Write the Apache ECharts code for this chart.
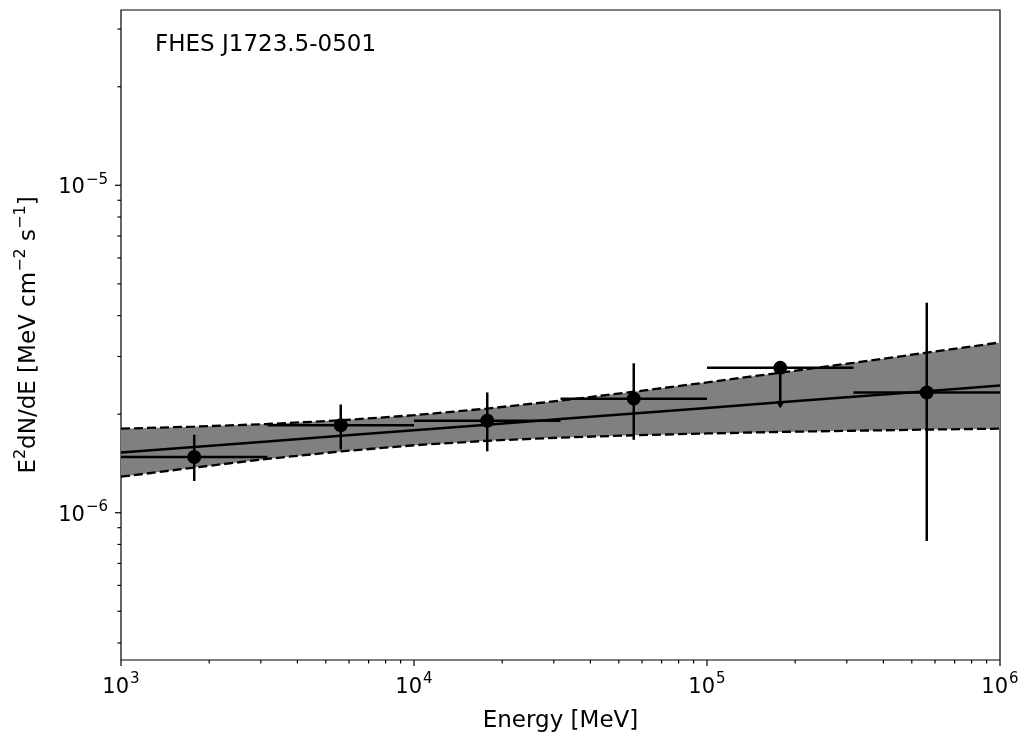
<!DOCTYPE html>
<html>
<head>
<meta charset="utf-8">
<script src="https://cdn.jsdelivr.net/npm/echarts@6/dist/echarts.min.js"></script>
<style>
  html, body { margin: 0; padding: 0; background: #fff; }
  #chart { width: 1025px; height: 743px; }
</style>
</head>
<body>
<div id="chart"></div>
<script>
// Spectral energy distribution of FHES J1723.5-0501

// Flux points per energy bin (MeV, MeV cm^-2 s^-1)
const binLo     = [1000, 3162, 10000, 31623, 100000, 316228];
const binHi     = [3162, 10000, 31623, 100000, 316228, 1000000];
const binCenter = [1778, 5623, 17783, 56234, 177828, 562341];
const flux      = [1.48e-6, 1.85e-6, 1.91e-6, 2.23e-6, 2.77e-6, 2.33e-6];
const fluxLo    = [1.25e-6, 1.56e-6, 1.54e-6, 1.67e-6, 2.14e-6, 8.2e-7];
const fluxHi    = [1.73e-6, 2.14e-6, 2.33e-6, 2.86e-6, null, 4.38e-6];
const isUpperLimit = [false, false, false, false, true, false];

// Best-fit model and its uncertainty band
const bandEnergy = [1000, 1778, 3162, 5623, 10000, 17783, 31623, 56234, 100000, 177828, 316228, 562341, 1000000];
const modelFlux  = [1.526e-6, 1.587e-6, 1.651e-6, 1.717e-6, 1.786e-6, 1.857e-6, 1.932e-6, 2.009e-6, 2.090e-6, 2.174e-6, 2.261e-6, 2.351e-6, 2.445e-6];
const bandUpper  = [1.806e-6, 1.832e-6, 1.866e-6, 1.915e-6, 1.985e-6, 2.080e-6, 2.200e-6, 2.341e-6, 2.501e-6, 2.677e-6, 2.870e-6, 3.082e-6, 3.311e-6];
const bandLower  = [1.288e-6, 1.374e-6, 1.460e-6, 1.539e-6, 1.607e-6, 1.659e-6, 1.696e-6, 1.724e-6, 1.746e-6, 1.765e-6, 1.780e-6, 1.794e-6, 1.806e-6];

// Axis ranges and ticks
const xRange = [1e3, 1e6];
const yRange = [3.55e-7, 3.43e-5];
const xMajorTicks = [1e3, 1e4, 1e5, 1e6];
const xMinorTicks = [2e3, 3e3, 4e3, 5e3, 6e3, 7e3, 8e3, 9e3,
                     2e4, 3e4, 4e4, 5e4, 6e4, 7e4, 8e4, 9e4,
                     2e5, 3e5, 4e5, 5e5, 6e5, 7e5, 8e5, 9e5];
const yMajorTicks = [1e-6, 1e-5];
const yMinorTicks = [4e-7, 5e-7, 6e-7, 7e-7, 8e-7, 9e-7,
                     2e-6, 3e-6, 4e-6, 5e-6, 6e-6, 7e-6, 8e-6, 9e-6,
                     2e-5, 3e-5];

const sourceName = 'FHES J1723.5-0501';

const FONT = 'DejaVu Sans';
const BLACK = '#000000';
const TEXT_SIZE = 23;

const supRich = {
  b: { fontFamily: FONT, fontSize: 21, color: BLACK, lineHeight: 26, verticalAlign: 'bottom' },
  s: { fontFamily: FONT, fontSize: 15, color: BLACK, lineHeight: 26, verticalAlign: 'top', padding: [0, 0, 0, 1] }
};

function powerLabel(value) {
  const p = Math.log10(value);
  const r = Math.round(p);
  if (Math.abs(p - r) > 1e-6) return '';
  return '{b|10}{s|' + String(r).replace('-', '\u2212') + '}';
}

const pointRows = binCenter.map((e, i) => [
  e, flux[i], binLo[i], binHi[i], fluxLo[i],
  fluxHi[i] == null ? flux[i] : fluxHi[i], isUpperLimit[i] ? 1 : 0
]);

function renderBand(params, api) {
  const pts = [];
  for (let i = 0; i < bandEnergy.length; i++) pts.push(api.coord([bandEnergy[i], bandUpper[i]]));
  for (let i = bandEnergy.length - 1; i >= 0; i--) pts.push(api.coord([bandEnergy[i], bandLower[i]]));
  return { type: 'polygon', shape: { points: pts }, style: { fill: '#808080', stroke: null } };
}

function renderPoint(params, api) {
  const e = api.value(0), f = api.value(1);
  const lo = api.value(2), hi = api.value(3);
  const fLo = api.value(4), fHi = api.value(5), ul = api.value(6);
  const c = api.coord([e, f]);
  const xl = api.coord([lo, f])[0];
  const xh = api.coord([hi, f])[0];
  const lw = 2.5;
  const children = [
    { type: 'line', shape: { x1: xl, y1: c[1], x2: xh, y2: c[1] }, style: { stroke: BLACK, lineWidth: lw } }
  ];
  if (ul) {
    const yEnd = api.coord([e, fLo])[1];
    children.push({ type: 'line', shape: { x1: c[0], y1: c[1], x2: c[0], y2: yEnd }, style: { stroke: BLACK, lineWidth: lw } });
    children.push({ type: 'polygon', shape: { points: [[c[0] - 4.5, yEnd - 3.5], [c[0] + 4.5, yEnd - 3.5], [c[0], yEnd + 4]] },
                    style: { fill: BLACK } });
  } else {
    const yTop = api.coord([e, fHi])[1];
    const yBot = api.coord([e, fLo])[1];
    children.push({ type: 'line', shape: { x1: c[0], y1: yTop, x2: c[0], y2: yBot }, style: { stroke: BLACK, lineWidth: lw } });
  }
  children.push({ type: 'circle', shape: { cx: c[0], cy: c[1], r: 7 }, style: { fill: BLACK } });
  return { type: 'group', children };
}

function renderXTick(params, api) {
  const cs = params.coordSys;
  const x = api.coord([api.value(0), yRange[0]])[0];
  const len = api.value(1) ? 3.5 : 6;
  const y0 = cs.y + cs.height;
  return { type: 'line', shape: { x1: x, y1: y0, x2: x, y2: y0 + len }, style: { stroke: BLACK, lineWidth: 1.2 } };
}

function renderYTick(params, api) {
  const cs = params.coordSys;
  const y = api.coord([xRange[0], api.value(1)])[1];
  const len = api.value(2) ? 3.5 : 6;
  const x0 = cs.x;
  return { type: 'line', shape: { x1: x0, y1: y, x2: x0 - len, y2: y }, style: { stroke: BLACK, lineWidth: 1.2 } };
}

const xTickRows = xMajorTicks.map(v => [v, 0]).concat(xMinorTicks.map(v => [v, 1]));
const yTickRows = yMajorTicks.map(v => [xRange[0], v, 0]).concat(yMinorTicks.map(v => [xRange[0], v, 1]));

const chart = echarts.init(document.getElementById('chart'), null, { renderer: 'canvas' });

chart.setOption({
  animation: false,
  backgroundColor: '#ffffff',
  title: {
    text: sourceName,
    left: 155, top: 34, padding: 0,
    textStyle: { fontFamily: FONT, fontSize: TEXT_SIZE, fontWeight: 'normal', color: BLACK }
  },
  grid: {
    left: 121, right: 25, top: 10, bottom: 83,
    show: true, borderColor: BLACK, borderWidth: 1.2, backgroundColor: 'transparent'
  },
  xAxis: {
    type: 'log', logBase: 10, min: xRange[0], max: xRange[1],
    name: 'Energy [MeV]', nameLocation: 'middle', nameGap: 50,
    nameTextStyle: { fontFamily: FONT, fontSize: TEXT_SIZE, color: BLACK },
    axisLine: { show: false },
    axisTick: { show: false },
    splitLine: { show: false },
    axisLabel: {
      margin: 12, formatter: powerLabel, rich: supRich
    }
  },
  yAxis: {
    type: 'log', logBase: 10, min: yRange[0], max: yRange[1],
    name: '{n|E}{s|2}{n|dN/dE [MeV cm}{s|\u22122}{n| s}{s|\u22121}{n|]}',
    nameLocation: 'middle', nameGap: 80,
    nameTextStyle: {
      rich: {
        n: { fontFamily: FONT, fontSize: TEXT_SIZE, color: BLACK, lineHeight: 28, verticalAlign: 'bottom' },
        s: { fontFamily: FONT, fontSize: 16, color: BLACK, lineHeight: 28, verticalAlign: 'top' }
      }
    },
    axisLine: { show: false },
    axisTick: { show: false },
    splitLine: { show: false },
    axisLabel: {
      margin: 13, showMinLabel: false, showMaxLabel: false,
      formatter: powerLabel, rich: supRich
    }
  },
  series: [
    {
      type: 'custom', name: 'band', renderItem: renderBand,
      data: [[bandEnergy[0], bandLower[0]]], silent: true, z: 1
    },
    {
      type: 'line', name: 'upper', data: bandEnergy.map((e, i) => [e, bandUpper[i]]),
      showSymbol: false, symbol: 'none', silent: true, z: 2,
      lineStyle: { color: BLACK, width: 2.3, type: [9, 4] }
    },
    {
      type: 'line', name: 'lower', data: bandEnergy.map((e, i) => [e, bandLower[i]]),
      showSymbol: false, symbol: 'none', silent: true, z: 2,
      lineStyle: { color: BLACK, width: 2.3, type: [9, 4] }
    },
    {
      type: 'line', name: 'model', data: bandEnergy.map((e, i) => [e, modelFlux[i]]),
      showSymbol: false, symbol: 'none', silent: true, z: 3,
      lineStyle: { color: BLACK, width: 2.5 }
    },
    {
      type: 'custom', name: 'points', renderItem: renderPoint,
      data: pointRows, silent: true, z: 4
    },
    {
      type: 'custom', name: 'xticks', renderItem: renderXTick,
      data: xTickRows, silent: true, z: 5, clip: false
    },
    {
      type: 'custom', name: 'yticks', renderItem: renderYTick,
      data: yTickRows, silent: true, z: 5, clip: false
    }
  ]
});
</script>
</body>
</html>
